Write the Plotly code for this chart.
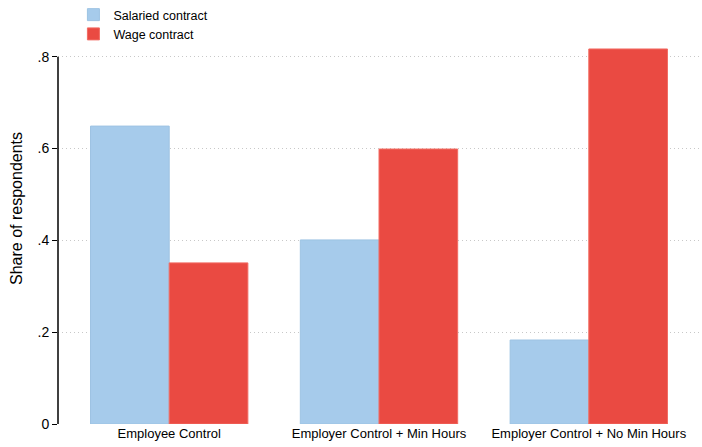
import plotly.graph_objects as go

categories = ["Employee Control", "Employer Control + Min Hours", "Employer Control + No Min Hours"]
salaried = [0.649, 0.401, 0.183]
wage = [0.351, 0.599, 0.817]
ytick_vals = [0, 0.2, 0.4, 0.6, 0.8]
ytick_text = ["0", ".2", ".4", ".6", ".8"]

font = "Liberation Sans, Arial, Helvetica, sans-serif"

fig = go.Figure()
fig.add_trace(go.Bar(x=categories, y=salaried, name="Salaried contract",
                     marker=dict(color="#A6CBEB", line=dict(color="#9DC3E3", width=1))))
fig.add_trace(go.Bar(x=categories, y=wage, name="Wage contract",
                     marker=dict(color="#EA4A42", line=dict(color="#F26B62", width=1))))

fig.update_layout(
    width=702, height=447,
    margin=dict(l=58, r=2, t=43, b=23, autoexpand=False),
    paper_bgcolor="white", plot_bgcolor="white",
    barmode="group", bargap=0.25, bargroupgap=0,
    font=dict(family=font, color="#000000", size=13),
    legend=dict(x=0.024, y=1.0, xref="paper", yref="container", xanchor="left", yanchor="top",
                orientation="v", font=dict(size=12.5), tracegroupgap=0,
                itemwidth=30, bgcolor="rgba(0,0,0,0)"),
    showlegend=True,
    annotations=[dict(text="Share of respondents", textangle=-90, showarrow=False,
                      xref="paper", yref="paper", x=-0.0639, y=0.567,
                      xanchor="center", yanchor="middle", font=dict(size=16))],
    shapes=[dict(type="line", xref="paper", yref="y", x0=0, x1=0,
                 y0=min(ytick_vals), y1=max(ytick_vals),
                 line=dict(color="#000000", width=1.5), layer="above")],
)
fig.update_xaxes(range=[-0.53, 2.53], showline=False, showgrid=False, automargin=False,
                 ticks="", tickfont=dict(size=13), zeroline=False)
fig.update_yaxes(range=[0, 0.83], tickvals=ytick_vals, ticktext=ytick_text, automargin=False,
                 showline=False,
                 ticks="outside", ticklen=5, tickcolor="#000000", tickwidth=1,
                 showgrid=True, gridcolor="#C8C8C8", griddash="1px,3px", gridwidth=1,
                 zeroline=False, tickfont=dict(size=14))

fig.write_html("out.html", config={"displayModeBar": False},
               post_script="document.body.style.margin='0';document.body.style.overflow='hidden';")
